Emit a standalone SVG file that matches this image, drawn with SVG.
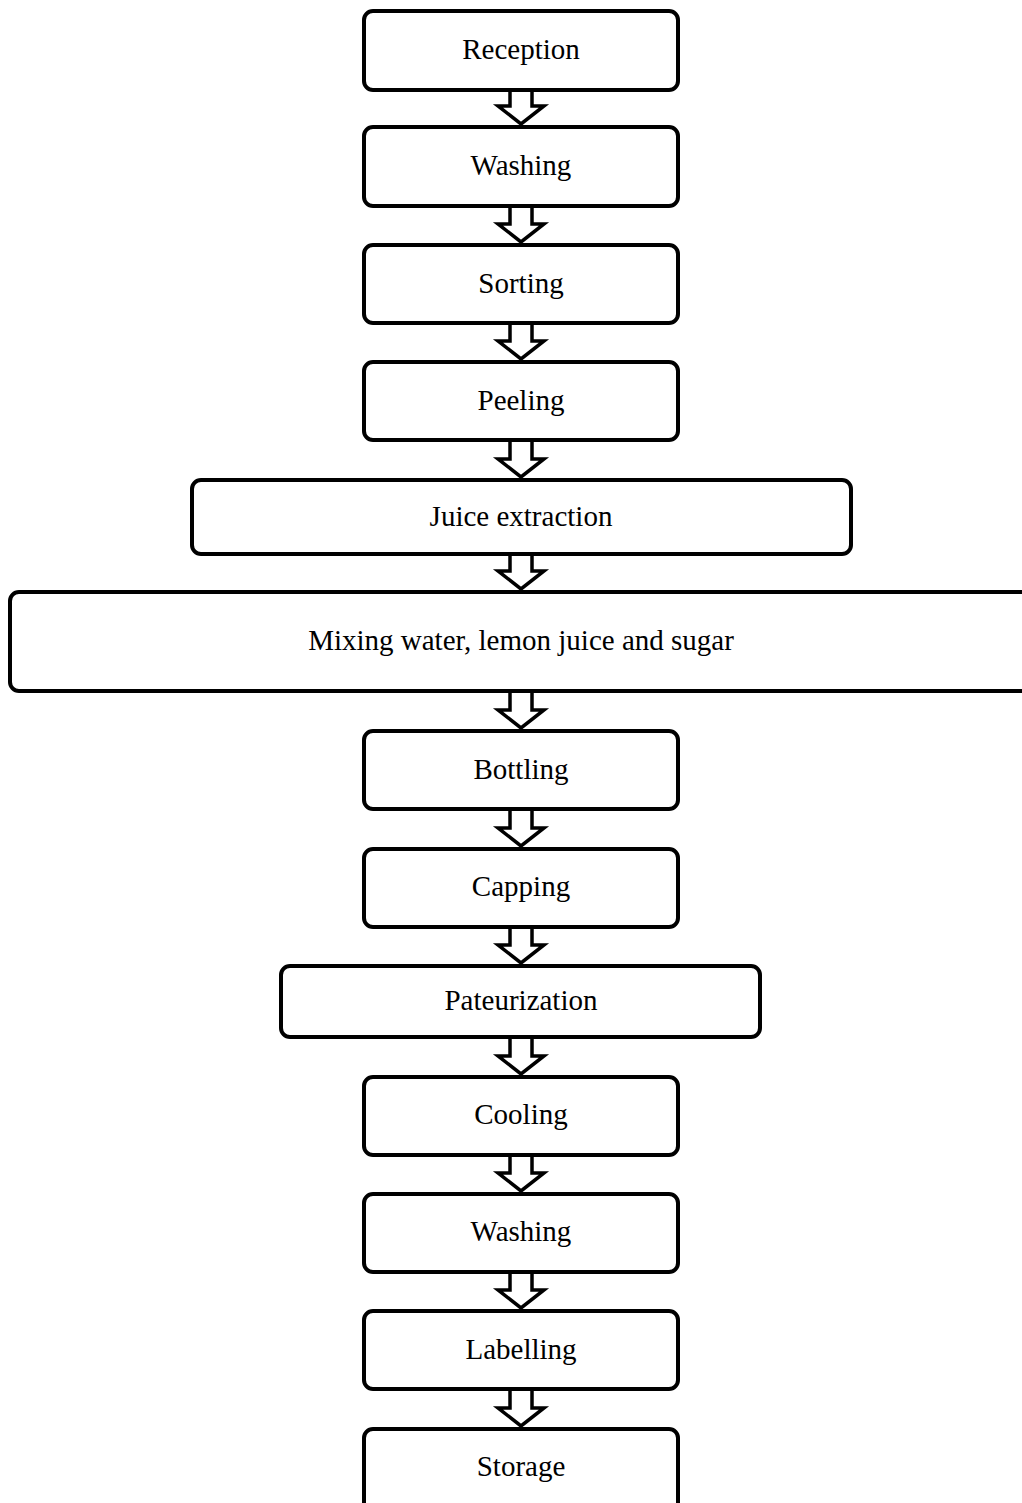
<svg xmlns="http://www.w3.org/2000/svg" width="1022" height="1503" viewBox="0 0 1022 1503">
<style>
.box{fill:#fff;stroke:#000;stroke-width:4}
.arr{fill:#fff;stroke:#000;stroke-width:3.5;stroke-linejoin:miter}
text{font-family:"Liberation Serif","Times New Roman",serif;font-size:29px;fill:#000;text-anchor:middle}
</style>
<rect width="1022" height="1503" fill="#fff"/>
<g id="connectors">
<polygon class="arr" points="510,90 532,90 532,106 544,106 521,124 498,106 510,106"/>
<polygon class="arr" points="510,206 532,206 532,224 544,224 521,242 498,224 510,224"/>
<polygon class="arr" points="510,323 532,323 532,341 544,341 521,359 498,341 510,341"/>
<polygon class="arr" points="510,440 532,440 532,459 544,459 521,477 498,459 510,459"/>
<polygon class="arr" points="510,554 532,554 532,571 544,571 521,589 498,571 510,571"/>
<polygon class="arr" points="510,691 532,691 532,710 544,710 521,728 498,710 510,710"/>
<polygon class="arr" points="510,809 532,809 532,828 544,828 521,846 498,828 510,828"/>
<polygon class="arr" points="510,927 532,927 532,945 544,945 521,963 498,945 510,945"/>
<polygon class="arr" points="510,1037 532,1037 532,1056 544,1056 521,1074 498,1056 510,1056"/>
<polygon class="arr" points="510,1155 532,1155 532,1173 544,1173 521,1191 498,1173 510,1173"/>
<polygon class="arr" points="510,1272 532,1272 532,1290 544,1290 521,1308 498,1290 510,1290"/>
<polygon class="arr" points="510,1389 532,1389 532,1408 544,1408 521,1426 498,1408 510,1408"/>
</g>
<g id="reception"><rect class="box" x="364" y="11" width="314" height="79" rx="9"/><text x="521" y="59">Reception</text></g>
<g id="washing1"><rect class="box" x="364" y="127" width="314" height="79" rx="9"/><text x="521" y="175">Washing</text></g>
<g id="sorting"><rect class="box" x="364" y="245" width="314" height="78" rx="9"/><text x="521" y="293">Sorting</text></g>
<g id="peeling"><rect class="box" x="364" y="362" width="314" height="78" rx="9"/><text x="521" y="410">Peeling</text></g>
<g id="juice"><rect class="box" x="192" y="480" width="659" height="74" rx="9"/><text x="521" y="526">Juice extraction</text></g>
<g id="mixing"><rect class="box" x="10" y="592" width="1040" height="99" rx="9"/><text x="521" y="650">Mixing water, lemon juice and sugar</text></g>
<g id="bottling"><rect class="box" x="364" y="731" width="314" height="78" rx="9"/><text x="521" y="779">Bottling</text></g>
<g id="capping"><rect class="box" x="364" y="849" width="314" height="78" rx="9"/><text x="521" y="896">Capping</text></g>
<g id="pasteurization"><rect class="box" x="281" y="966" width="479" height="71" rx="9"/><text x="521" y="1010">Pateurization</text></g>
<g id="cooling"><rect class="box" x="364" y="1077" width="314" height="78" rx="9"/><text x="521" y="1124">Cooling</text></g>
<g id="washing2"><rect class="box" x="364" y="1194" width="314" height="78" rx="9"/><text x="521" y="1241">Washing</text></g>
<g id="labelling"><rect class="box" x="364" y="1311" width="314" height="78" rx="9"/><text x="521" y="1359">Labelling</text></g>
<g id="storage"><rect class="box" x="364" y="1429" width="314" height="100" rx="9"/><text x="521" y="1476">Storage</text></g>
</svg>
